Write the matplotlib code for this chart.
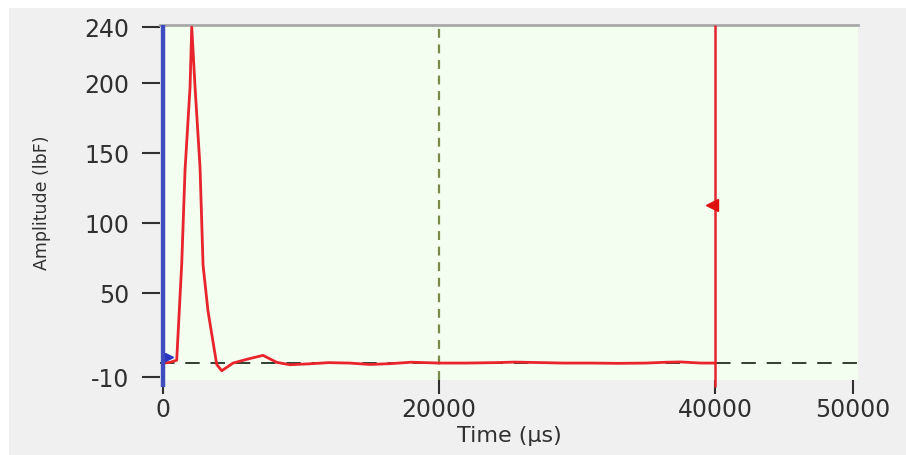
import matplotlib
matplotlib.use("Agg")
import matplotlib.pyplot as plt
from matplotlib.patches import Rectangle

# Force waveform (time in microseconds, amplitude in lbF)
time_us = [0, 500, 990, 1355, 1595, 1957, 2080, 2320, 2680, 2900, 3260, 3890,
           4255, 5075, 6200, 7250, 8240, 9200, 10500, 12000, 13500, 15000,
           16500, 18000, 20000, 22000, 24000, 25500, 27000, 29000, 31000,
           33000, 35000, 36500, 37500, 39000, 40000]
amplitude = [0, 0.5, 2, 71, 138, 197, 240, 197, 140, 70, 37, -1,
             -5.5, 0, 3, 5.5, 0.5, -1.2, -0.6, 0.3, 0, -1.0,
             -0.4, 0.6, 0, 0, 0.3, 0.7, 0.4, 0, 0,
             -0.2, 0, 0.6, 0.8, 0, 0]

# Cursors and markers
trigger_time = 0
trigger_level = 4
reference_time = 20000
cursor_time = 40000
cursor_level = 113
baseline = 0

x_ticks = [0, 20000, 40000, 50000]
y_ticks = [-10, 50, 100, 150, 200, 240]

W, H = 906, 455
fig = plt.figure(figsize=(W / 100, H / 100), dpi=100, facecolor="white")
# grey panel behind the chart
fig.patches.append(Rectangle((9 / W, 0), 1 - 9 / W, 1 - 8 / H,
                             transform=fig.transFigure, facecolor="#f0f0f0",
                             edgecolor="none", zorder=-10))

ax = fig.add_axes([160 / W, 1 - 380 / H, (858 - 160) / W, (380 - 25) / H])
ax.set_facecolor("#f3fdf0")
ax.set_xlim(-220, 50360)
ax.set_ylim(-12.1, 241.5)

# baseline and reference lines
ax.axhline(baseline, color="#203020", lw=1.3, ls=(0, (8, 6)), zorder=2)
ax.axvline(reference_time, color="#7c8a48", lw=1.6, ls=(0, (4, 3)), zorder=2)

# waveform
ax.plot(time_us, amplitude, color="#e8242c", lw=2, zorder=3)

# trigger cursor (blue) and measurement cursor (red)
ax.plot([trigger_time, trigger_time], [-17, 241.5], color="#3f4bbf", lw=3.2,
        clip_on=False, zorder=4, solid_capstyle="butt")
ax.plot([trigger_time + 400], [trigger_level], marker=">", color="#2a36c0",
        ms=6, zorder=5, clip_on=False)
ax.plot([cursor_time, cursor_time], [-17, 241.5], color="#e8242c", lw=1.8,
        clip_on=False, zorder=4, solid_capstyle="butt")
ax.plot([cursor_time - 250], [cursor_level], marker="<", color="#e01010",
        ms=9, zorder=5)

for side in ("left", "right", "bottom"):
    ax.spines[side].set_visible(False)
ax.spines["top"].set_color("#a8a8a8")
ax.spines["top"].set_linewidth(2)

ax.set_xticks(x_ticks)
ax.set_xticklabels([str(v) for v in x_ticks])
ax.set_yticks(y_ticks)
ax.set_yticklabels([str(v) for v in y_ticks])
ax.tick_params(axis="y", direction="out", length=13, width=1.5, pad=9,
               colors="#303030", labelsize=17, labelcolor="#303030")
ax.tick_params(axis="x", direction="out", length=10, width=1.5, pad=3,
               colors="#303030", labelsize=17, labelcolor="#303030")

ax.set_xlabel("Time (µs)", fontsize=16, color="#303030", labelpad=3)
ax.set_ylabel("Amplitude (lbF)", fontsize=12.5, color="#303030", labelpad=24)

fig.savefig("out.png", dpi=100, facecolor=fig.get_facecolor())
